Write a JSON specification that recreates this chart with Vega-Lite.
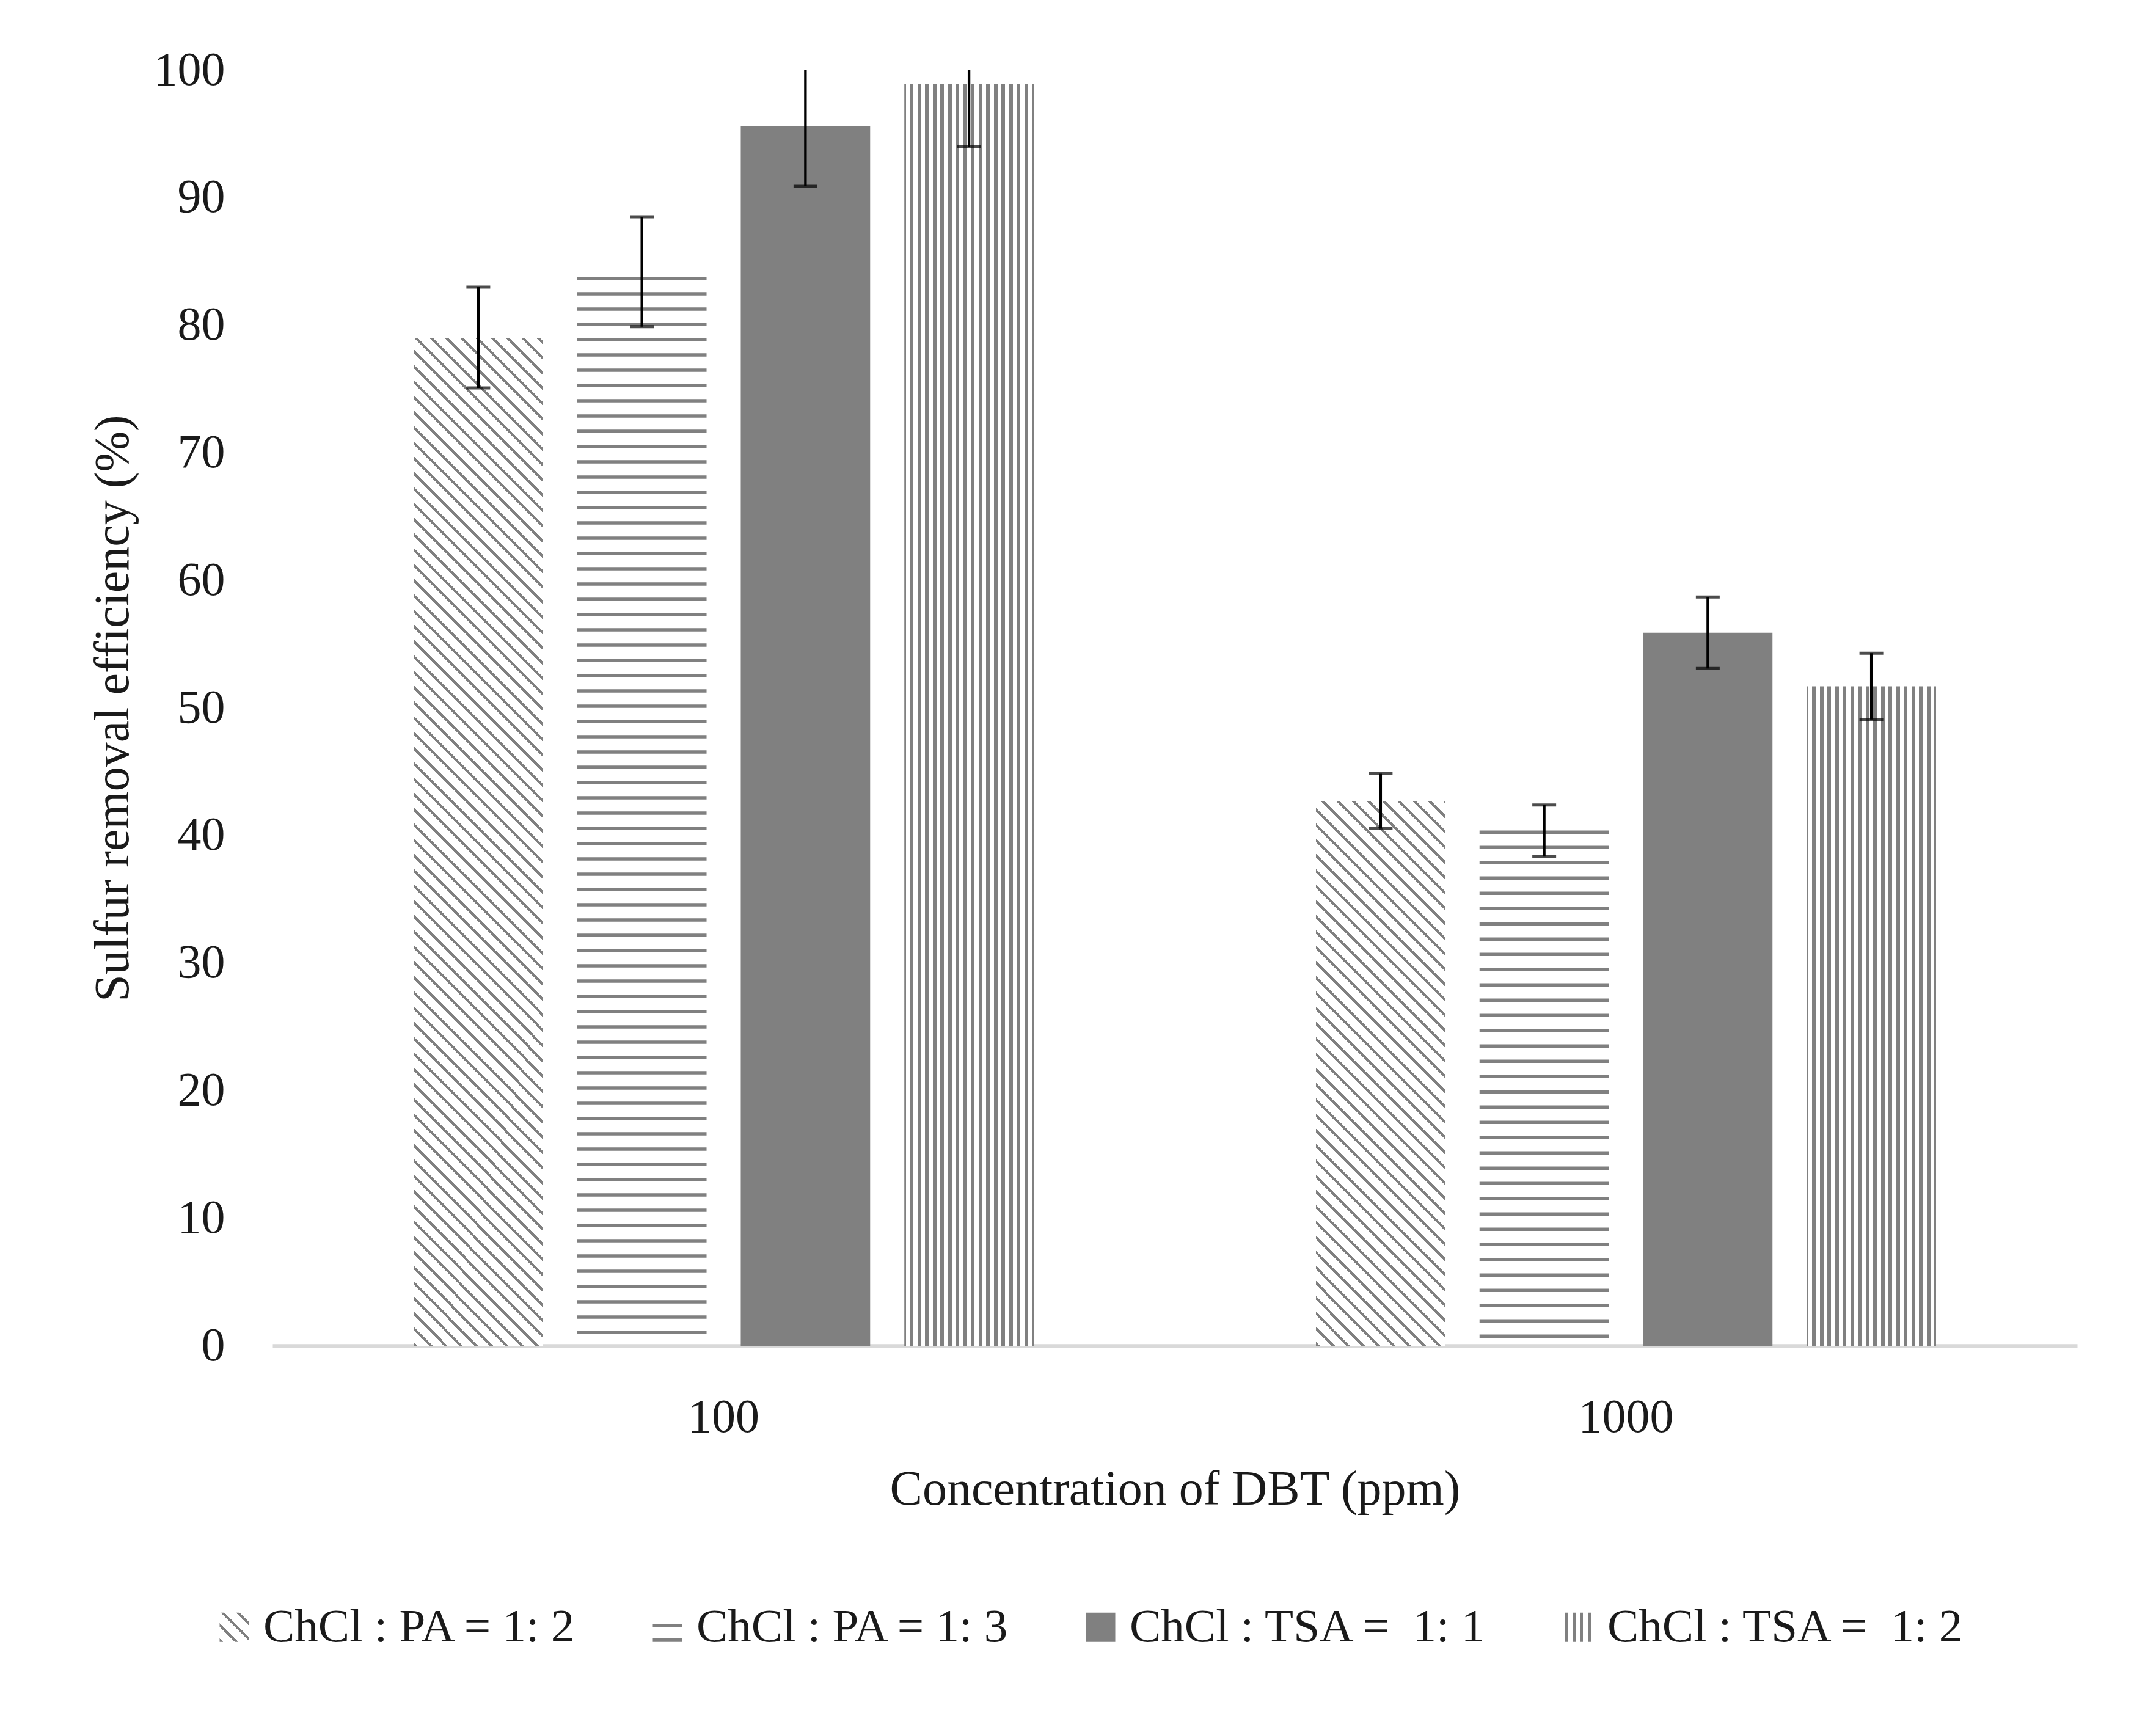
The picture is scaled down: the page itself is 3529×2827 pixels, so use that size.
{
"$schema":"https://vega.github.io/schema/vega-lite/v6.json",
"width":2954,"height":2088,"autosize":"none",
"padding":{"left":446,"top":115,"right":129,"bottom":624},
"background":"white",
"params":[{"name":"diagStops","value":[
{"offset":0,"color":"gray"},{"offset":0.0024,"color":"gray"},{"offset":0.0024,"color":"#fff"},{"offset":0.01,"color":"#fff"},
{"offset":0.01,"color":"gray"},{"offset":0.0124,"color":"gray"},{"offset":0.0124,"color":"#fff"},{"offset":0.02,"color":"#fff"},
{"offset":0.02,"color":"gray"},{"offset":0.0224,"color":"gray"},{"offset":0.0224,"color":"#fff"},{"offset":0.03,"color":"#fff"},
{"offset":0.03,"color":"gray"},{"offset":0.0324,"color":"gray"},{"offset":0.0324,"color":"#fff"},{"offset":0.04,"color":"#fff"},
{"offset":0.04,"color":"gray"},{"offset":0.0424,"color":"gray"},{"offset":0.0424,"color":"#fff"},{"offset":0.05,"color":"#fff"},
{"offset":0.05,"color":"gray"},{"offset":0.0524,"color":"gray"},{"offset":0.0524,"color":"#fff"},{"offset":0.06,"color":"#fff"},
{"offset":0.06,"color":"gray"},{"offset":0.0624,"color":"gray"},{"offset":0.0624,"color":"#fff"},{"offset":0.07,"color":"#fff"},
{"offset":0.07,"color":"gray"},{"offset":0.0724,"color":"gray"},{"offset":0.0724,"color":"#fff"},{"offset":0.08,"color":"#fff"},
{"offset":0.08,"color":"gray"},{"offset":0.0824,"color":"gray"},{"offset":0.0824,"color":"#fff"},{"offset":0.09,"color":"#fff"},
{"offset":0.09,"color":"gray"},{"offset":0.0924,"color":"gray"},{"offset":0.0924,"color":"#fff"},{"offset":0.1,"color":"#fff"},
{"offset":0.1,"color":"gray"},{"offset":0.1024,"color":"gray"},{"offset":0.1024,"color":"#fff"},{"offset":0.11,"color":"#fff"},
{"offset":0.11,"color":"gray"},{"offset":0.1124,"color":"gray"},{"offset":0.1124,"color":"#fff"},{"offset":0.12,"color":"#fff"},
{"offset":0.12,"color":"gray"},{"offset":0.1224,"color":"gray"},{"offset":0.1224,"color":"#fff"},{"offset":0.13,"color":"#fff"},
{"offset":0.13,"color":"gray"},{"offset":0.1324,"color":"gray"},{"offset":0.1324,"color":"#fff"},{"offset":0.14,"color":"#fff"},
{"offset":0.14,"color":"gray"},{"offset":0.1424,"color":"gray"},{"offset":0.1424,"color":"#fff"},{"offset":0.15,"color":"#fff"},
{"offset":0.15,"color":"gray"},{"offset":0.1524,"color":"gray"},{"offset":0.1524,"color":"#fff"},{"offset":0.16,"color":"#fff"},
{"offset":0.16,"color":"gray"},{"offset":0.1624,"color":"gray"},{"offset":0.1624,"color":"#fff"},{"offset":0.17,"color":"#fff"},
{"offset":0.17,"color":"gray"},{"offset":0.1724,"color":"gray"},{"offset":0.1724,"color":"#fff"},{"offset":0.18,"color":"#fff"},
{"offset":0.18,"color":"gray"},{"offset":0.1824,"color":"gray"},{"offset":0.1824,"color":"#fff"},{"offset":0.19,"color":"#fff"},
{"offset":0.19,"color":"gray"},{"offset":0.1924,"color":"gray"},{"offset":0.1924,"color":"#fff"},{"offset":0.2,"color":"#fff"},
{"offset":0.2,"color":"gray"},{"offset":0.2024,"color":"gray"},{"offset":0.2024,"color":"#fff"},{"offset":0.21,"color":"#fff"},
{"offset":0.21,"color":"gray"},{"offset":0.2124,"color":"gray"},{"offset":0.2124,"color":"#fff"},{"offset":0.22,"color":"#fff"},
{"offset":0.22,"color":"gray"},{"offset":0.2224,"color":"gray"},{"offset":0.2224,"color":"#fff"},{"offset":0.23,"color":"#fff"},
{"offset":0.23,"color":"gray"},{"offset":0.2324,"color":"gray"},{"offset":0.2324,"color":"#fff"},{"offset":0.24,"color":"#fff"},
{"offset":0.24,"color":"gray"},{"offset":0.2424,"color":"gray"},{"offset":0.2424,"color":"#fff"},{"offset":0.25,"color":"#fff"},
{"offset":0.25,"color":"gray"},{"offset":0.2524,"color":"gray"},{"offset":0.2524,"color":"#fff"},{"offset":0.26,"color":"#fff"},
{"offset":0.26,"color":"gray"},{"offset":0.2624,"color":"gray"},{"offset":0.2624,"color":"#fff"},{"offset":0.27,"color":"#fff"},
{"offset":0.27,"color":"gray"},{"offset":0.2724,"color":"gray"},{"offset":0.2724,"color":"#fff"},{"offset":0.28,"color":"#fff"},
{"offset":0.28,"color":"gray"},{"offset":0.2824,"color":"gray"},{"offset":0.2824,"color":"#fff"},{"offset":0.29,"color":"#fff"},
{"offset":0.29,"color":"gray"},{"offset":0.2924,"color":"gray"},{"offset":0.2924,"color":"#fff"},{"offset":0.3,"color":"#fff"},
{"offset":0.3,"color":"gray"},{"offset":0.3024,"color":"gray"},{"offset":0.3024,"color":"#fff"},{"offset":0.31,"color":"#fff"},
{"offset":0.31,"color":"gray"},{"offset":0.3124,"color":"gray"},{"offset":0.3124,"color":"#fff"},{"offset":0.32,"color":"#fff"},
{"offset":0.32,"color":"gray"},{"offset":0.3224,"color":"gray"},{"offset":0.3224,"color":"#fff"},{"offset":0.33,"color":"#fff"},
{"offset":0.33,"color":"gray"},{"offset":0.3324,"color":"gray"},{"offset":0.3324,"color":"#fff"},{"offset":0.34,"color":"#fff"},
{"offset":0.34,"color":"gray"},{"offset":0.3424,"color":"gray"},{"offset":0.3424,"color":"#fff"},{"offset":0.35,"color":"#fff"},
{"offset":0.35,"color":"gray"},{"offset":0.3524,"color":"gray"},{"offset":0.3524,"color":"#fff"},{"offset":0.36,"color":"#fff"},
{"offset":0.36,"color":"gray"},{"offset":0.3624,"color":"gray"},{"offset":0.3624,"color":"#fff"},{"offset":0.37,"color":"#fff"},
{"offset":0.37,"color":"gray"},{"offset":0.3724,"color":"gray"},{"offset":0.3724,"color":"#fff"},{"offset":0.38,"color":"#fff"},
{"offset":0.38,"color":"gray"},{"offset":0.3824,"color":"gray"},{"offset":0.3824,"color":"#fff"},{"offset":0.39,"color":"#fff"},
{"offset":0.39,"color":"gray"},{"offset":0.3924,"color":"gray"},{"offset":0.3924,"color":"#fff"},{"offset":0.4,"color":"#fff"},
{"offset":0.4,"color":"gray"},{"offset":0.4024,"color":"gray"},{"offset":0.4024,"color":"#fff"},{"offset":0.41,"color":"#fff"},
{"offset":0.41,"color":"gray"},{"offset":0.4124,"color":"gray"},{"offset":0.4124,"color":"#fff"},{"offset":0.42,"color":"#fff"},
{"offset":0.42,"color":"gray"},{"offset":0.4224,"color":"gray"},{"offset":0.4224,"color":"#fff"},{"offset":0.43,"color":"#fff"},
{"offset":0.43,"color":"gray"},{"offset":0.4324,"color":"gray"},{"offset":0.4324,"color":"#fff"},{"offset":0.44,"color":"#fff"},
{"offset":0.44,"color":"gray"},{"offset":0.4424,"color":"gray"},{"offset":0.4424,"color":"#fff"},{"offset":0.45,"color":"#fff"},
{"offset":0.45,"color":"gray"},{"offset":0.4524,"color":"gray"},{"offset":0.4524,"color":"#fff"},{"offset":0.46,"color":"#fff"},
{"offset":0.46,"color":"gray"},{"offset":0.4624,"color":"gray"},{"offset":0.4624,"color":"#fff"},{"offset":0.47,"color":"#fff"},
{"offset":0.47,"color":"gray"},{"offset":0.4724,"color":"gray"},{"offset":0.4724,"color":"#fff"},{"offset":0.48,"color":"#fff"},
{"offset":0.48,"color":"gray"},{"offset":0.4824,"color":"gray"},{"offset":0.4824,"color":"#fff"},{"offset":0.49,"color":"#fff"},
{"offset":0.49,"color":"gray"},{"offset":0.4924,"color":"gray"},{"offset":0.4924,"color":"#fff"},{"offset":0.5,"color":"#fff"},
{"offset":0.5,"color":"gray"},{"offset":0.5024,"color":"gray"},{"offset":0.5024,"color":"#fff"},{"offset":0.51,"color":"#fff"},
{"offset":0.51,"color":"gray"},{"offset":0.5124,"color":"gray"},{"offset":0.5124,"color":"#fff"},{"offset":0.52,"color":"#fff"},
{"offset":0.52,"color":"gray"},{"offset":0.5224,"color":"gray"},{"offset":0.5224,"color":"#fff"},{"offset":0.53,"color":"#fff"},
{"offset":0.53,"color":"gray"},{"offset":0.5324,"color":"gray"},{"offset":0.5324,"color":"#fff"},{"offset":0.54,"color":"#fff"},
{"offset":0.54,"color":"gray"},{"offset":0.5424,"color":"gray"},{"offset":0.5424,"color":"#fff"},{"offset":0.55,"color":"#fff"},
{"offset":0.55,"color":"gray"},{"offset":0.5524,"color":"gray"},{"offset":0.5524,"color":"#fff"},{"offset":0.56,"color":"#fff"},
{"offset":0.56,"color":"gray"},{"offset":0.5624,"color":"gray"},{"offset":0.5624,"color":"#fff"},{"offset":0.57,"color":"#fff"},
{"offset":0.57,"color":"gray"},{"offset":0.5724,"color":"gray"},{"offset":0.5724,"color":"#fff"},{"offset":0.58,"color":"#fff"},
{"offset":0.58,"color":"gray"},{"offset":0.5824,"color":"gray"},{"offset":0.5824,"color":"#fff"},{"offset":0.59,"color":"#fff"},
{"offset":0.59,"color":"gray"},{"offset":0.5924,"color":"gray"},{"offset":0.5924,"color":"#fff"},{"offset":0.6,"color":"#fff"},
{"offset":0.6,"color":"gray"},{"offset":0.6024,"color":"gray"},{"offset":0.6024,"color":"#fff"},{"offset":0.61,"color":"#fff"},
{"offset":0.61,"color":"gray"},{"offset":0.6124,"color":"gray"},{"offset":0.6124,"color":"#fff"},{"offset":0.62,"color":"#fff"},
{"offset":0.62,"color":"gray"},{"offset":0.6224,"color":"gray"},{"offset":0.6224,"color":"#fff"},{"offset":0.63,"color":"#fff"},
{"offset":0.63,"color":"gray"},{"offset":0.6324,"color":"gray"},{"offset":0.6324,"color":"#fff"},{"offset":0.64,"color":"#fff"},
{"offset":0.64,"color":"gray"},{"offset":0.6424,"color":"gray"},{"offset":0.6424,"color":"#fff"},{"offset":0.65,"color":"#fff"},
{"offset":0.65,"color":"gray"},{"offset":0.6524,"color":"gray"},{"offset":0.6524,"color":"#fff"},{"offset":0.66,"color":"#fff"},
{"offset":0.66,"color":"gray"},{"offset":0.6624,"color":"gray"},{"offset":0.6624,"color":"#fff"},{"offset":0.67,"color":"#fff"},
{"offset":0.67,"color":"gray"},{"offset":0.6724,"color":"gray"},{"offset":0.6724,"color":"#fff"},{"offset":0.68,"color":"#fff"},
{"offset":0.68,"color":"gray"},{"offset":0.6824,"color":"gray"},{"offset":0.6824,"color":"#fff"},{"offset":0.69,"color":"#fff"},
{"offset":0.69,"color":"gray"},{"offset":0.6924,"color":"gray"},{"offset":0.6924,"color":"#fff"},{"offset":0.7,"color":"#fff"},
{"offset":0.7,"color":"gray"},{"offset":0.7024,"color":"gray"},{"offset":0.7024,"color":"#fff"},{"offset":0.71,"color":"#fff"},
{"offset":0.71,"color":"gray"},{"offset":0.7124,"color":"gray"},{"offset":0.7124,"color":"#fff"},{"offset":0.72,"color":"#fff"},
{"offset":0.72,"color":"gray"},{"offset":0.7224,"color":"gray"},{"offset":0.7224,"color":"#fff"},{"offset":0.73,"color":"#fff"},
{"offset":0.73,"color":"gray"},{"offset":0.7324,"color":"gray"},{"offset":0.7324,"color":"#fff"},{"offset":0.74,"color":"#fff"},
{"offset":0.74,"color":"gray"},{"offset":0.7424,"color":"gray"},{"offset":0.7424,"color":"#fff"},{"offset":1,"color":"#fff"}
]}],
"data":{"values":[
{"conc":"100","series":"ChCl : PA = 1: 2","v":79.0,"lo":75.1,"hi":83.0},
{"conc":"100","series":"ChCl : PA = 1: 3","v":83.8,"lo":79.9,"hi":88.5},
{"conc":"100","series":"ChCl : TSA = \u00a01: 1","v":95.6,"lo":90.9,"hi":100.3},
{"conc":"100","series":"ChCl : TSA = \u00a01: 2","v":98.9,"lo":94.0,"hi":103.8},
{"conc":"1000","series":"ChCl : PA = 1: 2","v":42.7,"lo":40.55,"hi":44.85},
{"conc":"1000","series":"ChCl : PA = 1: 3","v":40.4,"lo":38.35,"hi":42.4},
{"conc":"1000","series":"ChCl : TSA = \u00a01: 1","v":55.9,"lo":53.1,"hi":58.7},
{"conc":"1000","series":"ChCl : TSA = \u00a01: 2","v":51.7,"lo":49.1,"hi":54.3}
]},
"encoding":{
"x":{"field":"conc","type":"nominal","scale":{"domain":["100","1000"],"paddingInner":0.3128,"paddingOuter":0.1564,"round":false},"title":"Concentration of DBT (ppm)"},
"xOffset":{"field":"series","type":"nominal","scale":{"domain":["ChCl : PA = 1: 2","ChCl : PA = 1: 3","ChCl : TSA = \u00a01: 1","ChCl : TSA = \u00a01: 2"],"paddingInner":0.209,"paddingOuter":0,"round":false}}
},
"layer":[
{"mark":{"type":"bar"},
 "encoding":{
  "y":{"datum":0,"type":"quantitative","scale":{"domain":[0,100],"nice":false},"title":"Sulfur removal efficiency (%)"},
  "fill":{"field":"series","type":"nominal","title":null,
   "scale":{"domain":["ChCl : PA = 1: 2","ChCl : PA = 1: 3","ChCl : TSA = \u00a01: 1","ChCl : TSA = \u00a01: 2"],
    "range":[
     {"expr":"{gradient:'linear',x1:0,y1:1,x2:26.04,y2:-25.04,stops:diagStops}"},
     {"expr":"{gradient:'linear',x1:0,y1:0,x2:0,y2:1,stops:[{offset:0,color:'#fff'},{offset:0.4,color:'#fff'},{offset:0.4,color:'gray'},{offset:0.5,color:'gray'},{offset:0.5,color:'#fff'},{offset:0.88,color:'#fff'},{offset:0.88,color:'gray'},{offset:1,color:'gray'}]}"},
     "gray",
     {"expr":"{gradient:'linear',x1:0,y1:0,x2:1,y2:0,stops:[{offset:0,color:'#fff'},{offset:0.04,color:'#fff'},{offset:0.04,color:'gray'},{offset:0.14,color:'gray'},{offset:0.14,color:'#fff'},{offset:0.3,color:'#fff'},{offset:0.3,color:'gray'},{offset:0.4,color:'gray'},{offset:0.4,color:'#fff'},{offset:0.56,color:'#fff'},{offset:0.56,color:'gray'},{offset:0.66,color:'gray'},{offset:0.66,color:'#fff'},{offset:0.82,color:'#fff'},{offset:0.82,color:'gray'},{offset:0.92,color:'gray'},{offset:0.92,color:'#fff'},{offset:1,color:'#fff'}]}"}
    ]},
   "legend":{"orient":"none","legendX":-101,"legendY":2510,"direction":"horizontal","columns":4,"symbolType":"square","symbolSize":2304,"symbolStrokeWidth":0,"symbolOpacity":1,"labelFont":"Liberation Serif","labelFontSize":77,"labelColor":"#1a1a1a","labelOffset":9,"labelLimit":0,"columnPadding":109,"padding":0}}
 }},
{"transform":[{"filter":{"field":"series","equal":"ChCl : TSA = \u00a01: 1"}}],
 "mark":{"type":"bar","fill":"gray"},
 "encoding":{"y":{"field":"v","type":"quantitative","title":"Sulfur removal efficiency (%)"}}},
{"transform":[{"filter":{"field":"series","equal":"ChCl : TSA = \u00a01: 2"}}],
 "mark":{"type":"bar","fill":{"gradient":"linear","x1":0,"y1":0,"x2":1,"y2":0,"stops":[
{"offset":0,"color":"gray"},{"offset":0.0118,"color":"gray"},{"offset":0.0118,"color":"#fff"},{"offset":0.0425,"color":"#fff"},{"offset":0.0425,"color":"gray"},{"offset":0.0708,"color":"gray"},{"offset":0.0708,"color":"#fff"},{"offset":0.1015,"color":"#fff"},{"offset":0.1015,"color":"gray"},{"offset":0.1298,"color":"gray"},{"offset":0.1298,"color":"#fff"},{"offset":0.1605,"color":"#fff"},{"offset":0.1605,"color":"gray"},{"offset":0.1889,"color":"gray"},{"offset":0.1889,"color":"#fff"},{"offset":0.2195,"color":"#fff"},{"offset":0.2195,"color":"gray"},{"offset":0.2479,"color":"gray"},{"offset":0.2479,"color":"#fff"},{"offset":0.2786,"color":"#fff"},{"offset":0.2786,"color":"gray"},{"offset":0.3069,"color":"gray"},{"offset":0.3069,"color":"#fff"},{"offset":0.3376,"color":"#fff"},{"offset":0.3376,"color":"gray"},{"offset":0.3659,"color":"gray"},{"offset":0.3659,"color":"#fff"},{"offset":0.3966,"color":"#fff"},{"offset":0.3966,"color":"gray"},{"offset":0.4249,"color":"gray"},{"offset":0.4249,"color":"#fff"},{"offset":0.4556,"color":"#fff"},{"offset":0.4556,"color":"gray"},{"offset":0.4839,"color":"gray"},{"offset":0.4839,"color":"#fff"},{"offset":0.5146,"color":"#fff"},{"offset":0.5146,"color":"gray"},{"offset":0.543,"color":"gray"},{"offset":0.543,"color":"#fff"},{"offset":0.5737,"color":"#fff"},{"offset":0.5737,"color":"gray"},{"offset":0.602,"color":"gray"},{"offset":0.602,"color":"#fff"},{"offset":0.6327,"color":"#fff"},{"offset":0.6327,"color":"gray"},{"offset":0.661,"color":"gray"},{"offset":0.661,"color":"#fff"},{"offset":0.6917,"color":"#fff"},{"offset":0.6917,"color":"gray"},{"offset":0.72,"color":"gray"},{"offset":0.72,"color":"#fff"},{"offset":0.7507,"color":"#fff"},{"offset":0.7507,"color":"gray"},{"offset":0.779,"color":"gray"},{"offset":0.779,"color":"#fff"},{"offset":0.8097,"color":"#fff"},{"offset":0.8097,"color":"gray"},{"offset":0.8381,"color":"gray"},{"offset":0.8381,"color":"#fff"},{"offset":0.8687,"color":"#fff"},{"offset":0.8687,"color":"gray"},{"offset":0.8971,"color":"gray"},{"offset":0.8971,"color":"#fff"},{"offset":0.9278,"color":"#fff"},{"offset":0.9278,"color":"gray"},{"offset":0.9561,"color":"gray"},{"offset":0.9561,"color":"#fff"},{"offset":0.9868,"color":"#fff"},{"offset":0.9868,"color":"gray"},{"offset":1,"color":"gray"}]}},
 "encoding":{"y":{"field":"v","type":"quantitative","title":"Sulfur removal efficiency (%)"}}},
{"transform":[{"filter":{"field":"series","equal":"ChCl : PA = 1: 3"}}],
 "mark":{"type":"rule","color":"gray","strokeWidth":211.78,"strokeDash":[5.5,19.5],"strokeCap":"butt"},
 "encoding":{"y":{"field":"v","type":"quantitative","title":"Sulfur removal efficiency (%)"},"y2":{"datum":0}}},
{"transform":[{"filter":{"and":[{"field":"series","equal":"ChCl : PA = 1: 2"},{"field":"conc","equal":"100"}]}}],
 "mark":{"type":"bar","fill":{"expr":"{gradient:'linear',x1:0,y1:1,x2:0.19145,y2:-0.49104,stops:diagStops}"}},
 "encoding":{"y":{"field":"v","type":"quantitative","title":"Sulfur removal efficiency (%)"}}},
{"transform":[{"filter":{"and":[{"field":"series","equal":"ChCl : PA = 1: 2"},{"field":"conc","equal":"1000"}]}}],
 "mark":{"type":"bar","fill":{"expr":"{gradient:'linear',x1:0,y1:1,x2:0.63051,y2:-1.6542,stops:diagStops}"}},
 "encoding":{"y":{"field":"v","type":"quantitative","title":"Sulfur removal efficiency (%)"}}},
{"mark":{"type":"rule","color":"black","strokeWidth":4.3,"clip":true},
 "encoding":{"y":{"field":"lo","type":"quantitative","title":"Sulfur removal efficiency (%)"},"y2":{"field":"hi"}}},
{"mark":{"type":"tick","color":"black","size":39,"thickness":5,"clip":true},
 "encoding":{"y":{"field":"lo","type":"quantitative","title":"Sulfur removal efficiency (%)"}}},
{"mark":{"type":"tick","color":"black","size":39,"thickness":5,"clip":true},
 "encoding":{"y":{"field":"hi","type":"quantitative","title":"Sulfur removal efficiency (%)"}}}
],
"config":{
 "font":"Liberation Serif",
 "view":{"stroke":null},
 "axis":{"labelFont":"Liberation Serif","titleFont":"Liberation Serif","labelColor":"#1a1a1a","titleColor":"#1a1a1a","titleFontWeight":"normal","grid":false,"ticks":false},
 "axisX":{"labelAngle":0,"labelFontSize":78,"labelPadding":78,"titleFontSize":80,"titlePadding":40,"domainColor":"#d9d9d9","domainWidth":6.5,"domainCap":"butt"},
 "axisY":{"domain":false,"labelFontSize":78,"labelPadding":78,"titleFontSize":80,"titlePadding":25,"tickCount":11}
}
}
